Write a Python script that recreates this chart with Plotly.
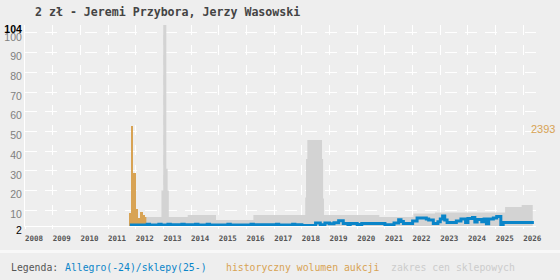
import plotly.graph_objects as go

# ---------------- data ----------------
title_text = "2 zł - Jeremi Przybora, Jerzy Wasowski"

# shop price range (upper edge of grey band), step changes
gray_dates = ["2012-05-20", "2012-12-05", "2012-12-28", "2013-02-08", "2013-02-25",
              "2013-03-12", "2013-11-17", "2014-11-25", "2016-04-01", "2018-02-14",
              "2018-02-25", "2018-03-14", "2018-09-24", "2018-10-08", "2018-10-19",
              "2020-10-19", "2022-01-12", "2022-10-23", "2025-05-05", "2025-12-10",
              "2026-05-05"]
gray_high = [6.6, 20, 150, 31, 20,
             6.6, 7.6, 5.1, 7.6, 16.4,
             36, 45.7, 36, 16, 7.6,
             6.6, 8.3, 8.8, 11.7, 12.7,
             12.7]

# monthly auction volume, Oct 2011 .. Feb 2025
vol_2011 = [8.8, 52.9, 29]
vol_2012 = [10.8, 6.1, 9.1, 7.5, 6.4, 5.2, 4.4, 4.4, 3.4, 4.2, 4.2, 5.2]
vol_2013 = [5.2, 4.2, 4.2, 4.0, 4.1, 4.0, 4.0, 4.1, 4.0, 4.0, 3.9, 3.8]
vol_2014 = [3.8, 3.9, 3.8, 3.8, 3.8, 3.8, 3.7, 6.8, 3.3, 3.0, 3.0, 3.0]
vol_2015 = [3.0, 3.1, 3.0, 3.0, 2.9, 3.0, 3.0, 3.1, 3.0, 3.0, 3.0, 3.0]
vol_2016 = [3.0, 3.0, 3.0, 3.1, 3.0, 3.0, 2.9, 3.0, 3.0, 3.0, 3.1, 3.0]
vol_2017 = [3.0, 3.0, 3.1, 3.0, 3.0, 3.0, 3.0, 2.9, 3.0, 3.0, 3.0, 3.0]
vol_2018 = [3.0, 3.0, 3.0, 2.9, 3.0, 3.0, 0.0, 3.0, 3.0, 3.0, 3.0, 3.0]
vol_2019 = [3.0, 3.0, 3.0, 3.0, 0.0, 3.0, 3.0, 3.0, 3.0, 3.0, 3.0, 3.0]
vol_2020 = [3.0, 3.0, 3.0, 3.0, 3.0, 3.0, 3.0, 3.0, 3.0, 3.0, 3.0, 3.0]
vol_2021 = [3.0, 3.0, 3.0, 3.0, 3.0, 3.0, 3.0, 3.0, 3.0, 3.0, 3.0, 3.0]
vol_2022 = [3.0, 3.0, 3.0, 3.0, 3.0, 3.0, 3.0, 3.0, 3.0, 3.0, 3.0, 3.0]
vol_2023 = [3.0, 3.0, 0.0, 3.0, 3.0, 3.0, 3.0, 3.0, 3.0, 3.0, 3.0, 3.0]
vol_2024 = [3.0, 3.0, 3.0, 3.0, 3.0, 3.0, 3.0, 3.0, 3.0, 3.0, 3.0, 3.0]
vol_2025 = [3.0, 3.0]

# price line (Allegro / shops), step changes
price_dates = ["2011-10-15", "2012-06-01", "2012-07-01", "2012-11-01", "2012-12-01",
               "2013-03-01", "2013-04-01", "2013-09-01", "2013-10-01", "2014-03-01",
               "2014-04-01", "2014-08-01", "2014-09-01", "2015-05-01", "2015-06-01",
               "2016-03-01", "2016-04-01", "2017-02-01", "2017-03-01", "2017-09-01",
               "2017-10-01", "2018-01-01", "2018-07-01", "2018-09-01", "2018-11-01",
               "2019-01-01", "2019-03-01", "2019-05-01", "2019-07-01", "2019-09-01",
               "2019-10-01", "2020-01-01", "2020-03-01", "2021-01-01", "2021-05-01",
               "2021-07-01", "2021-08-01", "2021-09-01", "2022-01-01", "2022-03-01",
               "2022-07-01", "2022-08-01", "2022-10-01", "2022-12-01", "2023-01-01",
               "2023-02-01", "2023-03-01", "2023-04-01", "2023-08-01", "2023-10-01",
               "2023-12-01", "2024-01-01", "2024-03-01", "2024-04-01", "2024-05-01",
               "2024-07-01", "2024-08-01", "2024-09-01", "2024-10-01", "2024-12-01",
               "2025-01-15", "2025-03-10", "2025-04-10", "2026-05-20"]
price_vals = [2.5, 2.9, 2.5, 2.9, 2.5,
              2.9, 2.6, 2.9, 2.6, 2.9,
              2.5, 2.9, 2.5, 2.9, 2.5,
              2.9, 2.6, 2.9, 2.5, 2.9,
              2.6, 2.2, 3.5, 2.6, 3.5,
              3.2, 3.6, 4.7, 3.3, 2.8,
              3.3, 2.8, 3.3, 2.6, 3.5,
              5.2, 4.3, 3.3, 4.5, 6.1,
              5.5, 5.0, 3.3, 4.2, 5.5,
              7.1, 5.0, 3.8, 4.5, 5.5,
              3.8, 5.8, 6.3, 4.0, 5.3,
              4.2, 5.5, 3.2, 5.5, 6.1,
              6.8, 2.6, 3.8, 3.8]

y_tickvals = [2, 10, 20, 30, 40, 50, 60, 70, 80, 90, 100, 104]
y_ticktext = ["<span style='color:#000'>2</span>", "10", "20", "30", "40", "50",
              "60", "70", "80", "90", "100", "<span style='color:#000'><b>104</b></span>"]
max_volume_label = "2393"
legend_parts = ["Legenda:", "Allegro(-24)/sklepy(25-)", "historyczny wolumen aukcji",
                "zakres cen sklepowych"]

# ---------------- build ----------------
vol_vals = (vol_2011 + vol_2012 + vol_2013 + vol_2014 + vol_2015 + vol_2016 + vol_2017
            + vol_2018 + vol_2019 + vol_2020 + vol_2021 + vol_2022 + vol_2023 + vol_2024
            + vol_2025)
vol_dates = []
y, m = 2011, 10
for _ in vol_vals:
    vol_dates.append(f"{y:04d}-{m:02d}-16")
    m += 1
    if m > 12:
        m, y = 1, y + 1

BG = "#eeeeee"
BLUE = "#0a85c9"
ORANGE = "#d8a354"
GRAY = "#d3d3d3"

fig = go.Figure()
fig.add_trace(go.Scatter(x=gray_dates, y=gray_high, mode="lines", line=dict(width=0, shape="hv"),
                         fill="tozeroy", fillcolor=GRAY, hoverinfo="skip"))
fig.add_trace(go.Bar(x=vol_dates, y=vol_vals, marker=dict(color=ORANGE, line=dict(width=0)),
                     width=31 * 24 * 3600 * 1000))
fig.add_trace(go.Scatter(x=price_dates, y=price_vals, mode="lines",
                         line=dict(color=BLUE, width=3, shape="hv")))

L, R, T, B = 25, 24, 25, 54
PW, PH = 560 - L - R, 280 - T - B

def px(xp):
    return (xp - L) / PW

def py(yp):
    return (280 - B - yp) / PH

mono = "DejaVu Sans Mono"
annots = [
    dict(text=max_volume_label, xref="paper", yref="y", x=px(529), y=51, xanchor="left",
         yanchor="middle", showarrow=False,
         font=dict(family="Liberation Sans", size=11, color=ORANGE)),
]
leg_x = [9, 63, 224, 389]
leg_c = ["#555555", BLUE, ORANGE, "#cccccc"]
for t, xx, c in zip(legend_parts, leg_x, leg_c):
    annots.append(dict(text=t, xref="paper", yref="paper", x=px(xx), y=py(267),
                       xanchor="left", yanchor="middle", showarrow=False,
                       font=dict(family=mono, size=9.8, color=c)))

fig.update_layout(
    width=560, height=280, margin=dict(l=L, r=R, t=T, b=B, autoexpand=False),
    paper_bgcolor=BG, plot_bgcolor=BG, showlegend=False, bargap=0,
    title=dict(text=title_text, xref="container", yref="container", x=35 / 560, y=1 - 12 / 280,
               xanchor="left", yanchor="middle",
               font=dict(family=mono, size=11.6, color="#444444", weight="bold")),
    annotations=annots,
    shapes=[dict(type="rect", xref="paper", yref="paper", x0=px(0), x1=px(560),
                 y0=py(253), y1=py(250), fillcolor="#f8f8f8", line=dict(width=0), layer="below")],
    xaxis=dict(type="date", range=["2008-01-01", "2026-06-17"], tick0="2008-01-01", dtick="M12",
               tickformat="%Y", showgrid=True, gridcolor="white", gridwidth=1,
               griddash="10px,10px",
               showline=True, linecolor="white", linewidth=1, ticks="outside", ticklen=2,
               tickcolor="white", ticklabelshift=9, ticklabelstandoff=3, automargin=False,
               tickfont=dict(family=mono, size=7.5, color="#555555", weight="bold"),
               zeroline=False, fixedrange=True),
    yaxis=dict(range=[2, 104], tickmode="array", tickvals=y_tickvals, ticktext=y_ticktext,
               showgrid=True, gridcolor="white", gridwidth=1, griddash="12px,8px",
               showline=True, linecolor="white", linewidth=1, ticks="", ticklabelshift=4,
               automargin=False,
               tickfont=dict(family="Liberation Sans", size=10.5, color="#808080"),
               zeroline=False, fixedrange=True),
)

fig.write_html("out.html")
